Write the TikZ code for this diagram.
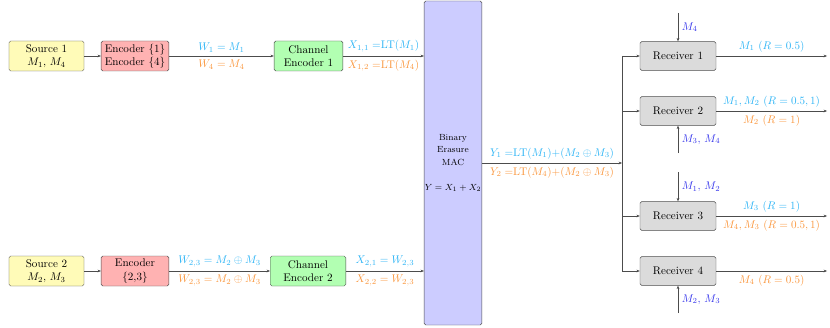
\documentclass[tikz,border=0pt]{standalone}
\usepackage{amsmath}
\usepackage{amssymb}
\usepackage{tikz}
\usetikzlibrary{arrows.meta,calc,positioning}
\definecolor{msgcyan}{RGB}{45,180,245}
\definecolor{msgorange}{RGB}{250,150,60}
\definecolor{sideblue}{RGB}{55,55,235}
\tikzset{
  blockbox/.style={draw=black!70, rounded corners=1.5pt, align=center,
    minimum height=27pt, inner sep=2pt},
  srcbox/.style={blockbox, fill=yellow!28, minimum width=67.5pt},
  encbox/.style={blockbox, fill=red!30, minimum width=61pt},
  chbox/.style={blockbox, fill=green!30, minimum width=62pt},
  rxbox/.style={blockbox, fill=black!14, minimum width=68.4pt, minimum height=26pt},
  link/.style={draw=black!70, -{Stealth[length=3pt,width=2.4pt]}},
}

\begin{document}
\begin{tikzpicture}[x=0.9pt, y=0.9pt]
\useasboundingbox (0,0) rectangle (830,327);
% Transmitter side, user 1 (top row)
\node[srcbox] (src1) at (46.5,271) {Source 1\\$M_1$, $M_4$};
\node[encbox] (enc1) at (135,271) {Encoder $\{1\}$\\Encoder $\{4\}$};
\node[chbox]  (ch1)  at (308.5,271) {Channel\\Encoder 1};
% Transmitter side, user 2 (bottom row)
\node[srcbox] (src2) at (46.5,56) {Source 2\\$M_2$, $M_3$};
\node[encbox] (enc2) at (135,56) {Encoder\\\{2,3\}};
\node[chbox, minimum width=68pt] (ch2) at (308,56) {Channel\\Encoder 2};
% Binary erasure MAC
\node[blockbox, fill=blue!20, minimum width=52pt, minimum height=291.6pt,
  font=\footnotesize, inner sep=0pt] (mac) at (453,164)
  {Binary\\[1.5pt]Erasure\\[1.5pt]MAC\\[13pt]$Y = X_1 + X_2$};
% Receivers
\node[rxbox] (rx1) at (678,271) {Receiver 1};
\node[rxbox] (rx2) at (678,216) {Receiver 2};
\node[rxbox] (rx3) at (678,111) {Receiver 3};
\node[rxbox] (rx4) at (678,56)  {Receiver 4};
\coordinate (bus) at (622,164);
\coordinate (sink) at (827,164);
% Top row links
\draw[link] (src1) -- (enc1);
\draw[link] (enc1) -- (ch1)
  node[midway, above, msgcyan] {$W_1 = M_1$}
  node[midway, below, msgorange] {$W_4 = M_4$};
\draw[link] (ch1.east) -- (ch1.east -| mac.west)
  node[midway, above, msgcyan] {$X_{1,1} =$LT$(M_1)$}
  node[midway, below, msgorange] {$X_{1,2} =$LT$(M_4)$};
% Bottom row links
\draw[link] (src2) -- (enc2);
\draw[link] (enc2) -- (ch2)
  node[midway, above, msgcyan] {$W_{2,3} = M_2 \oplus M_3$}
  node[midway, below, msgorange] {$W_{2,3} = M_2 \oplus M_3$};
\draw[link] (ch2.east) -- (ch2.east -| mac.west)
  node[midway, above, msgcyan] {$X_{2,1} = W_{2,3}$}
  node[midway, below, msgorange] {$X_{2,2} = W_{2,3}$};
% Channel output to the receivers
\draw[link] (mac.east |- bus) -- (bus)
  node[midway, above, msgcyan] {$Y_1 =$LT$(M_1)$+$(M_2 \oplus M_3)$}
  node[midway, below, msgorange] {$Y_2 =$LT$(M_4)$+$(M_2 \oplus M_3)$};
\draw[draw=black!70] (bus |- rx1.west) -- (bus |- rx4.west);
\foreach \r in {1,...,4}{
  \draw[link] (bus |- rx\r.west) -- (rx\r.west);
}
% Decoded messages
\draw[link] (rx1.east) -- (rx1.east -| sink)
  node[midway, above, msgcyan] {$M_1$ $(R = 0.5)$};
\draw[link] (rx2.east) -- (rx2.east -| sink)
  node[midway, above, msgcyan] {$M_1, M_2$ $(R = 0.5, 1)$}
  node[midway, below, msgorange] {$M_2$ $(R = 1)$};
\draw[link] (rx3.east) -- (rx3.east -| sink)
  node[midway, above, msgcyan] {$M_3$ $(R = 1)$}
  node[midway, below, msgorange] {$M_4, M_3$ $(R = 0.5, 1)$};
\draw[link] (rx4.east) -- (rx4.east -| sink)
  node[midway, below, msgorange] {$M_4$ $(R = 0.5)$};
% Side information
\coordinate (side1) at (678,314);
\coordinate (side2) at (678,174);
\coordinate (side3) at (678,155);
\coordinate (side4) at (678,14);
\draw[link] (side1) -- (rx1.north) node[midway, right, sideblue] {$M_4$};
\draw[link] (side2) -- (rx2.south) node[midway, right, sideblue] {$M_3$, $M_4$};
\draw[link] (side3) -- (rx3.north) node[midway, right, sideblue] {$M_1$, $M_2$};
\draw[link] (side4) -- (rx4.south) node[midway, right, sideblue] {$M_2$, $M_3$};
\end{tikzpicture}
\end{document}
